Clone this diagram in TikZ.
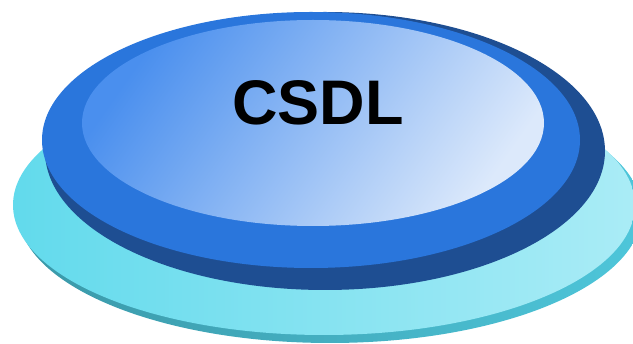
\documentclass[tikz,border=0pt]{standalone}
\usepackage{fontspec}
\setmainfont{Liberation Sans}
\definecolor{cyanshadowL}{HTML}{3A98A8}
\definecolor{cyanshadowR}{HTML}{4EC6DA}
\definecolor{cyanL}{HTML}{62DAEC}
\definecolor{cyanR}{HTML}{AAECF6}
\definecolor{darkblue}{HTML}{1E4E92}
\definecolor{midblue}{HTML}{2A76DC}
\definecolor{innerL}{HTML}{4A8FEE}
\definecolor{innerR}{HTML}{DCE9FB}
\begin{document}
\begin{tikzpicture}[x=1pt,y=-1pt]
\useasboundingbox (0,0) rectangle (633,344);
% cyan base disc
\shade[left color=cyanshadowL,right color=cyanshadowR] (330,212) ellipse [x radius=312,y radius=131];
\shade[left color=cyanL,right color=cyanR] (324,205) ellipse [x radius=311,y radius=130];
% blue disc
\fill[darkblue] (325,151) ellipse [x radius=280,y radius=139];
\fill[midblue] (311,140) ellipse [x radius=269,y radius=128];
\shade[left color=innerL,right color=innerR,shading angle=55] (313,123) ellipse [x radius=231,y radius=103];
\node[font=\bfseries\fontsize{63}{63}\selectfont,text=black,inner sep=0pt] (title) at (318,103) {CSDL};
\end{tikzpicture}
\end{document}
